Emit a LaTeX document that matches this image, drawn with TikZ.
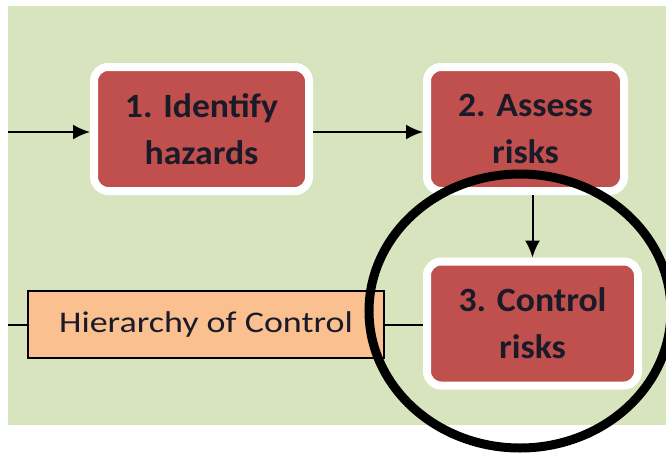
\documentclass[tikz,border=0pt]{standalone}
\usepackage{fontspec}
\newfontfamily\stepfont{Carlito}[FakeStretch=1.05]
\newfontfamily\hocfont{Carlito}[FakeStretch=1.2]
\usetikzlibrary{arrows.meta,shadows}
\definecolor{bggreen}{HTML}{D7E4BD}
\definecolor{riskred}{HTML}{C0504D}
\definecolor{hocpeach}{HTML}{FAC090}
\definecolor{textdark}{HTML}{1A1A28}
\tikzset{
	stepbox/.style={rectangle, rounded corners=7pt, fill=riskred, draw=white, line width=4pt,
		minimum height=62pt, align=center, text=textdark,
		font=\stepfont\bfseries\fontsize{17}{23.5}\selectfont,
		drop shadow={shadow xshift=1pt, shadow yshift=-1.5pt, fill=brown!60!black, opacity=0.45}},
	hocbox/.style={rectangle, fill=hocpeach, draw=black, line width=1pt,
		minimum width=178pt, minimum height=33.5pt, text=textdark,
		font=\hocfont\fontsize{15}{18}\selectfont},
	flow/.style={line width=1pt, -{Latex[length=8.5pt,width=7.5pt]}},
	link/.style={line width=1pt}
}
\begin{document}
\begin{tikzpicture}[x=0.5pt,y=-0.5pt]
	\useasboundingbox (0,0) rectangle (666,452);
	\fill[bggreen] (8,6) rectangle (666,425);
	\node[stepbox, minimum width=107.5pt] (identify) at (201.5,129) {1. Identify\\hazards};
	\node[stepbox, minimum width=98.5pt] (assess) at (525.5,129) {2. Assess\\risks};
	\node[stepbox, minimum width=105.5pt] (control) at (532.5,323.5) {3. Control\\risks};
	\node[hocbox] (hoc) at (206,324.5) {Hierarchy of Control};
	\coordinate (start) at (8,132);
	\coordinate (hocleft) at (8,324.5);
	\draw[flow] (start) -- (start -| identify.west);
	\draw[flow] (identify.east |- start) -- (assess.west |- start);
	\draw[flow] (control.north |- assess.south) -- (control.north);
	\draw[link] (hocleft) -- (hoc.west);
	\draw[link] (hoc.east) -- (hoc.east -| control.west);
	\draw[line width=4.5pt] (520,311) ellipse (151 and 137);
\end{tikzpicture}
\end{document}
